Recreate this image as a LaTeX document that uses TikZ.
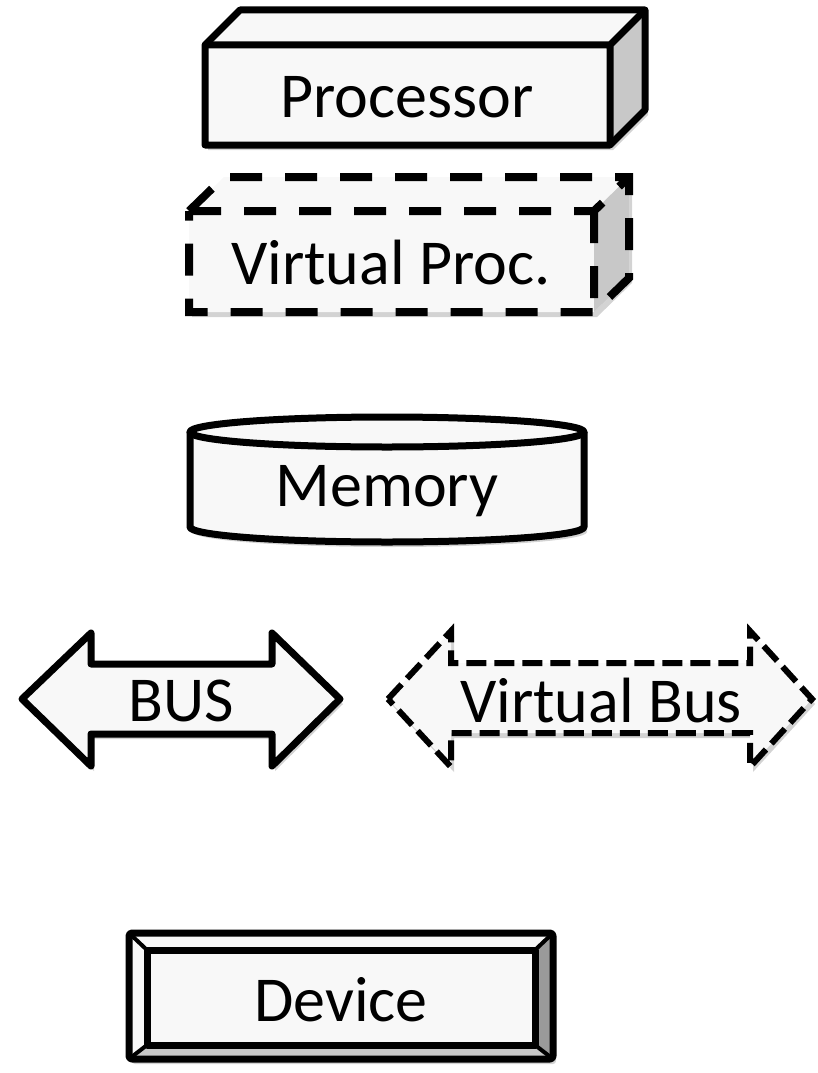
\documentclass[tikz,border=0pt]{standalone}
\usepackage{fontspec}
\setmainfont{Carlito}
\usetikzlibrary{shadows}
\definecolor{facelight}{HTML}{F8F8F8}
\definecolor{faceside}{HTML}{C8C8C8}
\definecolor{facedark}{HTML}{9A9A9A}
\begin{document}
\begin{tikzpicture}[x=1pt,y=-1pt,
  outl/.style={draw=black,line width=7pt,line join=round},
  dashoutl/.style={draw=black,line width=8pt,line join=miter,dash pattern=on 32pt off 23pt},
  busdash/.style={draw=black,line width=6pt,line join=miter,dash pattern=on 20pt off 8pt},
  shad/.style={drop shadow={opacity=0.35,shadow xshift=3pt,shadow yshift=-5pt}},
  lbl/.style={font=\fontsize{64}{70}\selectfont,text=black,inner sep=0pt}]
\useasboundingbox (0,0) rectangle (817,1073);
% ---------- Processor ----------
\path[shad,fill=facelight] (205,45)--(240,10)--(645,10)--(645,110)--(610,145)--(205,145)--cycle;
\path[fill=facelight] (205,45) rectangle (610,145);
\path[fill=facelight] (205,45)--(240,10)--(645,10)--(610,45)--cycle;
\path[fill=faceside] (610,45)--(645,10)--(645,110)--(610,145)--cycle;
\draw[outl] (205,45)--(240,10)--(645,10)--(645,110)--(610,145)--(205,145)--cycle;
\draw[outl] (205,45)--(610,45)--(645,10) (610,45)--(610,145);
\node[lbl] (proc) at (407,97) {Processor};
% ---------- Virtual Proc ----------
\path[shad,fill=facelight] (189,211)--(224,177)--(629,177)--(629,278)--(594,312)--(189,312)--cycle;
\path[fill=facelight] (189,211) rectangle (594,312);
\path[fill=faceside] (594,211)--(629,177)--(629,278)--(594,312)--cycle;
\draw[dashoutl] (189,211)--(224,177)--(629,177)--(629,278)--(594,312)--(189,312)--cycle;
\draw[dashoutl] (189,211)--(594,211)--(629,177) (594,211)--(594,312);
\node[lbl] (vproc) at (391,263) {Virtual Proc.};
% ---------- Memory ----------
\path[shad,fill=facelight] (190,432)--(190,527) arc[start angle=180,end angle=360,x radius=197pt,y radius=15pt]--(584,432) arc[start angle=0,end angle=180,x radius=197pt,y radius=15pt]--cycle;
\draw[outl,fill=facelight] (190,432)--(190,527) arc[start angle=180,end angle=360,x radius=197pt,y radius=15pt]--(584,432);
\draw[outl,fill=facelight] (387,432) ellipse[x radius=197pt,y radius=15pt];
\node[lbl] (mem) at (387,491) {Memory};
% ---------- BUS ----------
\draw[outl,fill=facelight,shad] (22,699)--(91,633)--(91,664)--(272,664)--(272,633)--(340,699)--(272,766)--(272,734)--(91,734)--(91,766)--cycle;
\node[lbl] (bus) at (181,701) {BUS};
% ---------- Virtual Bus ----------
\path[fill=facelight,shad] (388,699)--(451,631)--(451,663)--(750,663)--(750,631)--(812,699)--(750,767)--(750,733)--(451,733)--(451,767)--cycle;
\draw[busdash] (388,699)--(451,631)--(451,663)--(750,663)--(750,631)--(812,699)--(750,767)--(750,733)--(451,733)--(451,767)--cycle;
\node[lbl] (vbus) at (601,701) {Virtual Bus};
% ---------- Device ----------
\path[shad,fill=facelight,rounded corners=3pt] (129,933) rectangle (553,1059);
\path[fill=facelight] (129,933)--(553,933)--(535,950)--(147,950)--cycle;
\path[fill=faceside] (129,1059)--(553,1059)--(535,1045)--(147,1045)--cycle;
\path[fill=facelight] (129,933)--(147,950)--(147,1045)--(129,1059)--cycle;
\path[fill=facedark] (553,933)--(535,950)--(535,1045)--(553,1059)--cycle;
\draw[black,line width=4pt] (129,933)--(147,950) (553,933)--(535,950) (553,1059)--(535,1045) (129,1059)--(147,1045);
\draw[outl,rounded corners=3pt] (129,933) rectangle (553,1059);
\draw[outl] (147,950) rectangle (535,1045);
\node[lbl] (dev) at (341,1000) {Device};
\end{tikzpicture}
\end{document}
